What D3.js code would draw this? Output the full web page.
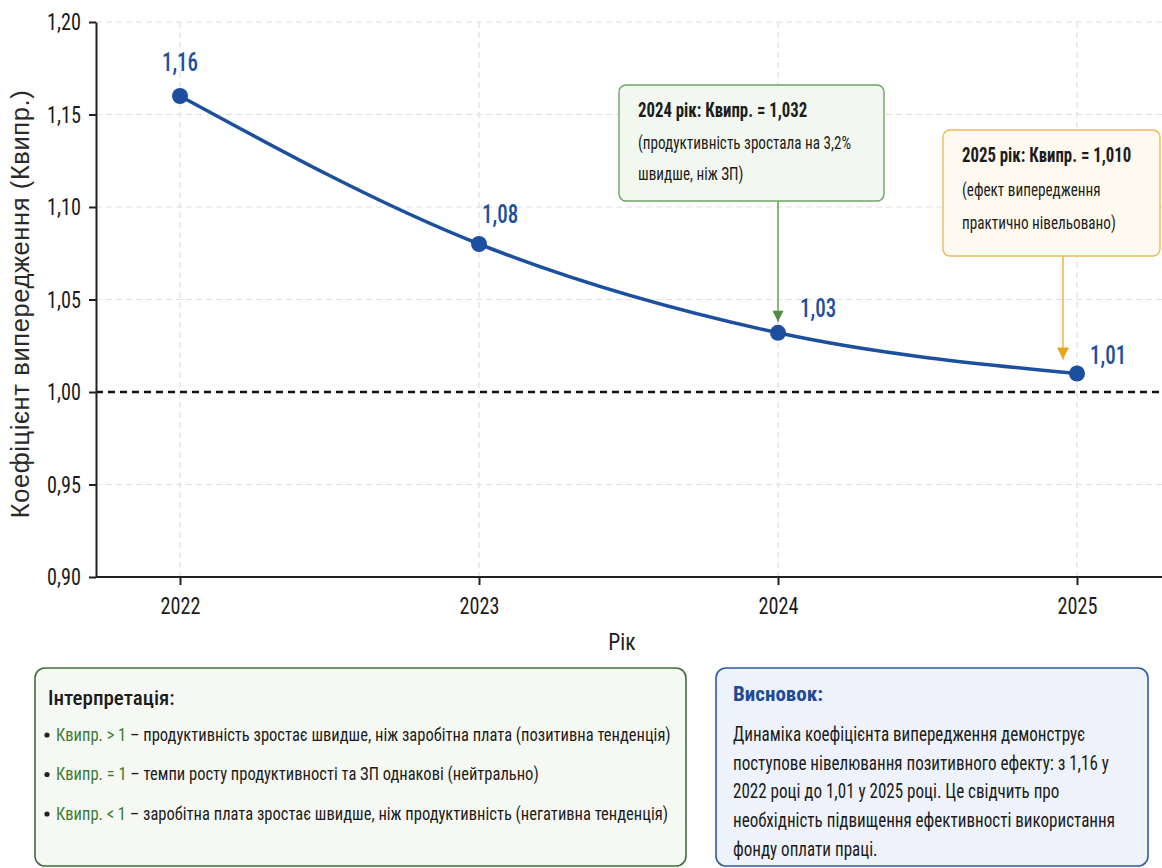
<!DOCTYPE html>
<html>
<head>
<meta charset="utf-8">
<script src="https://cdn.jsdelivr.net/npm/d3@7"></script>
<style>
  body { margin: 0; background: #ffffff; }
  svg { display: block; }
</style>
</head>
<body>
<svg id="chart" width="1162" height="868"></svg>
<script>
// ---- data ----
const years = [2022, 2023, 2024, 2025];
const kValues = [1.16, 1.08, 1.032, 1.010];
const yTicks = [0.90, 0.95, 1.00, 1.05, 1.10, 1.15, 1.20];
const parityLevel = 1.00;

const yTitle = "Коефіцієнт випередження (Квипр.)";
const xTitle = "Рік";

const note2024Lines = ["2024 рік: Квипр. = 1,032", "(продуктивність зростала на 3,2%", "швидше, ніж ЗП)"];
const note2025Lines = ["2025 рік: Квипр. = 1,010", "(ефект випередження", "практично нівельовано)"];

const interpretTitle = "Інтерпретація:";
const interpretKeys = ["Квипр. > 1", "Квипр. = 1", "Квипр. < 1"];
const interpretTexts = [
  " – продуктивність зростає швидше, ніж заробітна плата (позитивна тенденція)",
  " – темпи росту продуктивності та ЗП однакові (нейтрально)",
  " – заробітна плата зростає швидше, ніж продуктивність (негативна тенденція)"
];

const conclusionTitle = "Висновок:";
const conclusionLines = [
  "Динаміка коефіцієнта випередження демонструє",
  "поступове нівелювання позитивного ефекту: з 1,16 у",
  "2022 році до 1,01 у 2025 році. Це свідчить про",
  "необхідність підвищення ефективності використання",
  "фонду оплати праці."
];

// ---- layout ----
const plot = { left: 96, top: 22, right: 1160, bottom: 577 };
const NARROW = "'Roboto Condensed', 'Liberation Sans Narrow', Roboto, sans-serif";
const WIDE = "'Liberation Sans', Arial, sans-serif";
const BLUE = "#1d4f9f";
const INK = "#1c1c1c";
const fmt = d => d.toFixed(2).replace(".", ",");

// horizontally condense text around its own x anchor
function squeeze(sel, f) {
  sel.each(function () {
    const el = d3.select(this);
    const x0 = +el.attr("x") || 0;
    el.attr("transform", `translate(${x0},0) scale(${f},1) translate(${-x0},0)`);
  });
}

const svg = d3.select("#chart");

const x = d3.scaleLinear().domain([2022, 2025]).range([180, 1077]);
const y = d3.scaleLinear().domain([0.90, 1.20]).range([plot.bottom, plot.top]);

const data = years.map((yr, i) => ({ year: yr, k: kValues[i] }));

// grid
const grid = svg.append("g");
grid.selectAll("line.h")
  .data(yTicks.filter(t => t !== 0.90 && t !== parityLevel))
  .join("line")
  .attr("x1", plot.left).attr("x2", plot.right + 2)
  .attr("y1", d => y(d)).attr("y2", d => y(d))
  .attr("stroke", "#e0e0e0").attr("stroke-width", 1.2)
  .attr("stroke-dasharray", "6,4");
grid.selectAll("line.v")
  .data(years)
  .join("line")
  .attr("x1", d => x(d)).attr("x2", d => x(d))
  .attr("y1", plot.top).attr("y2", plot.bottom)
  .attr("stroke", "#e0e0e0").attr("stroke-width", 1.2)
  .attr("stroke-dasharray", "6,4");

// parity line at 1,00
svg.append("line")
  .attr("x1", plot.left).attr("x2", plot.right + 2)
  .attr("y1", y(parityLevel)).attr("y2", y(parityLevel))
  .attr("stroke", "#111").attr("stroke-width", 2.6)
  .attr("stroke-dasharray", "7,5");

// axes
const yAxis = svg.append("g")
  .attr("transform", `translate(${plot.left},0)`)
  .call(d3.axisLeft(y).tickValues(yTicks).tickFormat(fmt).tickSize(7).tickSizeOuter(0));
yAxis.select(".domain").attr("stroke", "#222").attr("stroke-width", 2);
yAxis.selectAll(".tick line").attr("stroke", "#222").attr("stroke-width", 2);
yAxis.selectAll(".tick text")
  .attr("font-family", NARROW).attr("font-size", 23.5).attr("fill", INK)
  .attr("x", -15).attr("dy", "0.34em")
  .call(squeeze, 0.86);

const xAxis = svg.append("g")
  .attr("transform", `translate(0,${plot.bottom})`)
  .call(d3.axisBottom(x).tickValues(years).tickFormat(d3.format("d")).tickSize(8).tickSizeOuter(0));
xAxis.select(".domain").remove();
xAxis.selectAll(".tick line").attr("stroke", "#222").attr("stroke-width", 2);
xAxis.selectAll(".tick text")
  .attr("font-family", NARROW).attr("font-size", 23.5).attr("fill", INK)
  .attr("y", 20)
  .call(squeeze, 0.86);
svg.append("line")
  .attr("x1", plot.left).attr("x2", plot.right + 2)
  .attr("y1", plot.bottom).attr("y2", plot.bottom)
  .attr("stroke", "#222").attr("stroke-width", 2);

// axis titles
svg.append("text")
  .attr("transform", `translate(29,304) rotate(-90)`)
  .attr("text-anchor", "middle")
  .attr("font-family", WIDE).attr("font-size", 25.5).attr("fill", "#2a2a2a")
  .attr("letter-spacing", 0.6)
  .text(yTitle);
svg.append("text")
  .attr("x", 622).attr("y", 650)
  .attr("text-anchor", "middle")
  .attr("font-family", NARROW).attr("font-size", 24).attr("fill", INK)
  .text(xTitle)
  .call(squeeze, 0.9);

// line
const line = d3.line().x(d => x(d.year)).y(d => y(d.k)).curve(d3.curveMonotoneX);
svg.append("path")
  .datum(data)
  .attr("d", line)
  .attr("fill", "none").attr("stroke", BLUE).attr("stroke-width", 3.5);

svg.selectAll("circle.pt")
  .data(data)
  .join("circle")
  .attr("cx", d => x(d.year)).attr("cy", d => y(d.k))
  .attr("r", 8).attr("fill", BLUE);

// value labels (offsets from each point)
const labelOffsets = [[0, -25, "middle"], [3, -21, "start"], [22, -16, "start"], [13, -9, "start"]];
svg.selectAll("text.val")
  .data(data)
  .join("text")
  .attr("x", (d, i) => x(d.year) + labelOffsets[i][0])
  .attr("y", (d, i) => y(d.k) + labelOffsets[i][1])
  .attr("text-anchor", (d, i) => labelOffsets[i][2])
  .attr("font-family", NARROW).attr("font-size", 25).attr("font-weight", 500)
  .attr("fill", BLUE)
  .text(d => fmt(d.k))
  .call(squeeze, 0.84);

// callouts
const defs = svg.append("defs");
function arrowHead(id, color, w, h) {
  defs.append("marker")
    .attr("id", id)
    .attr("viewBox", "0 0 10 10").attr("refX", 10).attr("refY", 5)
    .attr("markerWidth", h).attr("markerHeight", w)
    .attr("markerUnits", "userSpaceOnUse")
    .attr("orient", "auto")
    .append("path").attr("d", "M0,0 L10,5 L0,10 Z").attr("fill", color);
}
arrowHead("arrGreen", "#4f8c43", 11, 14);
arrowHead("arrOrange", "#e6a620", 12, 16);

function callout(box, lines, stroke, fill, arrowX, arrowY2, markerId) {
  const g = svg.append("g");
  g.append("line")
    .attr("x1", arrowX).attr("x2", arrowX)
    .attr("y1", box.y + box.h).attr("y2", arrowY2)
    .attr("stroke", stroke).attr("stroke-width", 1.6)
    .attr("marker-end", `url(#${markerId})`);
  g.append("rect")
    .attr("x", box.x).attr("y", box.y).attr("width", box.w).attr("height", box.h)
    .attr("rx", 7).attr("fill", fill).attr("stroke", stroke).attr("stroke-width", 1.4);
  g.selectAll("text")
    .data(lines)
    .join("text")
    .attr("x", box.x + 19)
    .attr("y", (d, i) => box.y + 32 + i * box.lh + (i > 0 ? box.gap : 0))
    .attr("font-family", NARROW)
    .attr("font-size", (d, i) => i === 0 ? 21 : 19)
    .attr("font-weight", (d, i) => i === 0 ? 700 : 400)
    .attr("fill", INK)
    .text(d => d)
    .call(squeeze, 0.8);
}
callout({ x: 619, y: 85, w: 265, h: 116, lh: 31, gap: 1 }, note2024Lines,
  "#6ea566", "#f2f8ef", x(2024), y(kValues[2]) - 11, "arrGreen");
callout({ x: 943, y: 130, w: 217, h: 126, lh: 33, gap: 1 }, note2025Lines,
  "#ebba58", "#fffaf0", x(2025) - 14, y(kValues[3]) - 14, "arrOrange");

// interpretation panel
const left = svg.append("g");
left.append("rect")
  .attr("x", 35).attr("y", 668).attr("width", 651).attr("height", 198).attr("rx", 10)
  .attr("fill", "#f6f9f3").attr("stroke", "#3f6f3a").attr("stroke-width", 1.6);
left.append("text")
  .attr("x", 48).attr("y", 705)
  .attr("font-family", NARROW).attr("font-size", 21).attr("font-weight", 500).attr("fill", INK)
  .text(interpretTitle);
interpretKeys.forEach((key, i) => {
  const yy = 741 + i * 39.5;
  left.append("circle").attr("cx", 47).attr("cy", yy - 6).attr("r", 2.6).attr("fill", "#222");
  const t = left.append("text")
    .attr("x", 56).attr("y", yy)
    .attr("font-family", NARROW).attr("font-size", 19).attr("fill", INK);
  t.append("tspan").attr("fill", "#3d7a33").text(key);
  t.append("tspan").text(interpretTexts[i]);
  t.call(squeeze, 0.87);
});

// conclusion panel
const right = svg.append("g");
right.append("rect")
  .attr("x", 716).attr("y", 668).attr("width", 432).attr("height", 198).attr("rx", 10)
  .attr("fill", "#eef3fb").attr("stroke", "#2f5aa8").attr("stroke-width", 1.6);
right.append("text")
  .attr("x", 733).attr("y", 701)
  .attr("font-family", NARROW).attr("font-size", 21).attr("font-weight", 700).attr("fill", "#1f4a96")
  .text(conclusionTitle);
right.selectAll("text.line")
  .data(conclusionLines)
  .join("text")
  .attr("x", 733)
  .attr("y", (d, i) => 741 + i * 28.7)
  .attr("font-family", NARROW).attr("font-size", 19.5).attr("fill", INK)
  .text(d => d)
  .call(squeeze, 0.875);
</script>
</body>
</html>
